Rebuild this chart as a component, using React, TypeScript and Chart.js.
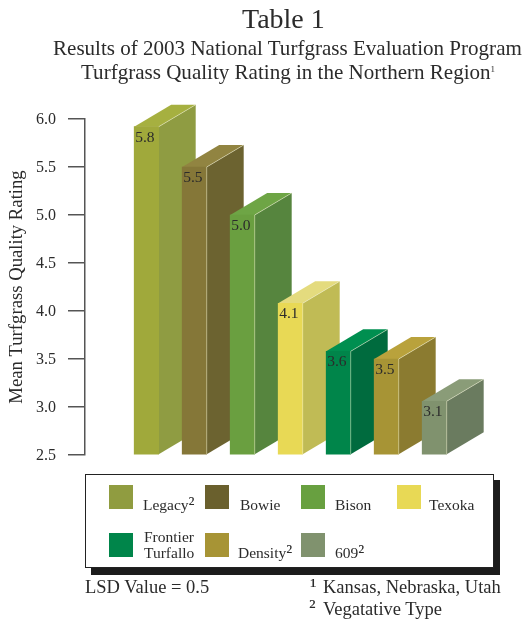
import React, { useEffect, useRef } from "react";
import { Chart, registerables } from "chart.js";

Chart.register(...registerables);

const varieties = ["Legacy", "Bowie", "Bison", "Texoka", "Frontier Turfallo", "Density", "609"];
const valueLabels = ["5.8", "5.5", "5.0", "4.1", "3.6", "3.5", "3.1"];
const drawnHeights = [5.92, 5.5, 5.0, 4.08, 3.58, 3.5, 3.06];
const barPositions = [0, 1, 2, 3, 4, 5, 6];
const frontColors = ["#A0A93B", "#857738", "#6A9F40", "#E8D955", "#00854A", "#A79435", "#80926E"];
const sideColors = ["#8F9C42", "#6C6330", "#56853E", "#C0BB55", "#006B3E", "#8B7B30", "#6A7B5F"];
const topColors = ["#A6B040", "#918441", "#6EA545", "#E4DB7E", "#008F50", "#B9A23C", "#8A9C78"];
const swatchColors = ["#909C40", "#6A602D", "#68A040", "#E8D955", "#00854A", "#A79435", "#80926E"];
const yTicks = [2.5, 6.0];

const SERIF = "'Liberation Serif', serif";
const INK = "#2b2b2b";
const DEPTH_X = 37;
const DEPTH_Y = 22;

const extrude = {
  id: "extrude",
  beforeDatasetsDraw(chart: any) {
    const { ctx } = chart;
    const meta = chart.getDatasetMeta(0);
    meta.data.forEach((bar: any, i: number) => {
      const l = bar.x - bar.width / 2;
      const r = bar.x + bar.width / 2;
      const t = bar.y;
      const b = bar.base;
      ctx.save();
      ctx.fillStyle = sideColors[i];
      ctx.beginPath();
      ctx.moveTo(r, t);
      ctx.lineTo(r + DEPTH_X, t - DEPTH_Y);
      ctx.lineTo(r + DEPTH_X, b - DEPTH_Y);
      ctx.lineTo(r, b);
      ctx.closePath();
      ctx.fill();
      ctx.fillStyle = topColors[i];
      ctx.beginPath();
      ctx.moveTo(l, t);
      ctx.lineTo(l + DEPTH_X, t - DEPTH_Y);
      ctx.lineTo(r + DEPTH_X, t - DEPTH_Y);
      ctx.lineTo(r, t);
      ctx.closePath();
      ctx.fill();
      ctx.restore();
    });
  },
  afterDatasetsDraw(chart: any) {
    const { ctx } = chart;
    const meta = chart.getDatasetMeta(0);
    meta.data.forEach((bar: any, i: number) => {
      const l = bar.x - bar.width / 2;
      const r = bar.x + bar.width / 2;
      ctx.save();
      ctx.strokeStyle = "rgba(235,235,205,0.65)";
      ctx.lineWidth = 0.8;
      ctx.beginPath();
      if (i === 0) {
        ctx.moveTo(r, bar.y);
      } else {
        ctx.moveTo(r, bar.base);
        ctx.lineTo(r, bar.y);
      }
      ctx.lineTo(r + DEPTH_X, bar.y - DEPTH_Y);
      ctx.stroke();
      ctx.fillStyle = INK;
      ctx.font = `15.5px ${SERIF}`;
      ctx.textAlign = "left";
      ctx.textBaseline = "alphabetic";
      ctx.fillText(valueLabels[i], l + 1, bar.y + 15);
      ctx.restore();
    });
  },
};

const abs = (left: number, top: number, size: number, extra: any = {}) => ({
  position: "absolute" as const,
  left,
  top,
  fontSize: size,
  lineHeight: 1,
  fontFamily: SERIF,
  color: INK,
  whiteSpace: "nowrap" as const,
  ...extra,
});

const legendCells = [
  { x: 109, y: 485, tx: 143, ty: 497, lines: ["Legacy²"] },
  { x: 205, y: 485, tx: 240, ty: 497, lines: ["Bowie"] },
  { x: 301, y: 485, tx: 335, ty: 497, lines: ["Bison"] },
  { x: 397, y: 485, tx: 429, ty: 497, lines: ["Texoka"] },
  { x: 109, y: 533, tx: 144, ty: 529, lines: ["Frontier", "Turfallo"] },
  { x: 205, y: 533, tx: 238, ty: 545, lines: ["Density²"] },
  { x: 301, y: 533, tx: 335, ty: 545, lines: ["609²"] },
];

const legendText = (line: string) =>
  line.endsWith("²") ? (
    <>
      {line.slice(0, -1)}
      <span style={{ fontSize: 20, lineHeight: 0 }}>²</span>
    </>
  ) : (
    line
  );

export default function App() {
  const ref = useRef<HTMLCanvasElement>(null);
  useEffect(() => {
    const chart = new Chart(ref.current!, {
      type: "bar",
      data: {
        labels: varieties,
        datasets: [
          {
            data: barPositions.map((x, i) => ({ x, y: drawnHeights[i] })),
            backgroundColor: frontColors,
            borderWidth: 0,
            barThickness: 24.5,
            base: yTicks[0],
          },
        ],
      },
      options: {
        responsive: false,
        animation: false,
        layout: { padding: { top: 119, bottom: 165, right: 28, left: 0 } },
        plugins: { legend: { display: false }, tooltip: { enabled: false }, title: { display: false } },
        scales: {
          x: { type: "linear", display: false, offset: false, min: -1.28, max: 7.366 },
          y: {
            min: yTicks[0],
            max: yTicks[1],
            afterFit: (s: any) => {
              s.width = 85;
            },
            border: { color: "#555", width: 1.5 },
            grid: { drawOnChartArea: false, color: "#555", lineWidth: 1.5, tickLength: 17, drawTicks: true },
            ticks: {
              stepSize: 0.5,
              padding: 12,
              labelOffset: 1,
              color: INK,
              font: { family: SERIF, size: 16 },
              callback: (v: any) => Number(v).toFixed(1),
            },
            title: {
              display: true,
              text: "Mean Turfgrass Quality Rating",
              color: INK,
              font: { family: SERIF, size: 18.7 },
              padding: { top: 6, bottom: 0 },
            },
          },
        },
      } as any,
      plugins: [extrude],
    });
    return () => chart.destroy();
  }, []);

  return (
    <div style={{ position: "absolute", left: 0, top: 0, width: 528, height: 620, background: "#fff", overflow: "hidden" }}>
      <canvas ref={ref} width={528} height={620} style={{ position: "absolute", left: 0, top: 0, display: "block" }} />
      <div style={abs(242, 5, 28)}>Table 1</div>
      <div style={abs(53, 38, 21.05)}>Results of 2003 National Turfgrass Evaluation Program</div>
      <div style={abs(81, 62, 21.05)}>Turfgrass Quality Rating in the Northern Region<span style={{ fontSize: 9, verticalAlign: 7 }}>1</span></div>

      <div style={{ position: "absolute", left: 91, top: 480, width: 409, height: 95, background: "#1c1c1c" }} />
      <div style={{ position: "absolute", left: 85, top: 474, width: 409, height: 94, boxSizing: "border-box", background: "#fff", border: "1.5px solid #222" }} />
      {legendCells.map((c, i) => (
        <React.Fragment key={varieties[i]}>
          <div style={{ position: "absolute", left: c.x, top: c.y, width: 24, height: 24, background: swatchColors[i] }} />
          {c.lines.map((line, j) => (
            <div key={line} style={abs(c.tx, c.ty + j * 16, 15.5)}>{legendText(line)}</div>
          ))}
        </React.Fragment>
      ))}
      <div style={abs(85, 578, 18.5)}>LSD Value = 0.5</div>
      <div style={abs(310, 575, 22)}>¹</div>
      <div style={abs(323, 578, 18.5)}>Kansas, Nebraska, Utah</div>
      <div style={abs(309, 596, 22)}>²</div>
      <div style={abs(323, 600, 18.5)}>Vegatative Type</div>
    </div>
  );
}
